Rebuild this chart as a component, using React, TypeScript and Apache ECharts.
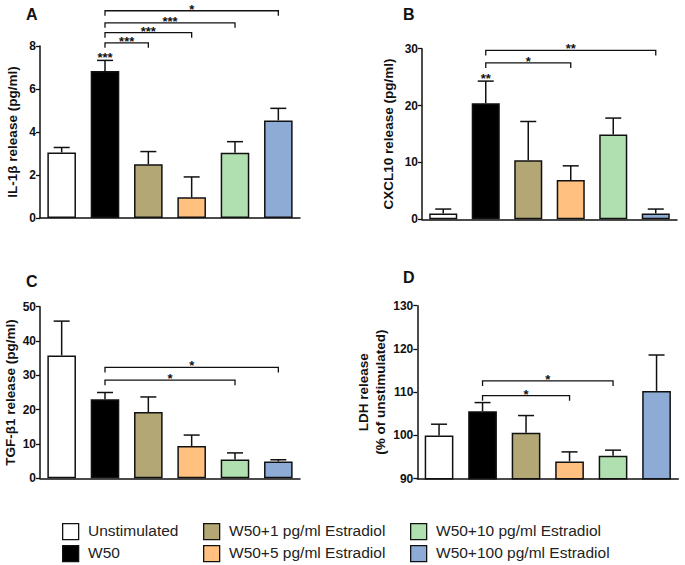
import React, { useEffect, useRef } from "react";
import * as echarts from "echarts";

const categories = [
  "Unstimulated",
  "W50",
  "W50+1 pg/ml Estradiol",
  "W50+5 pg/ml Estradiol",
  "W50+10 pg/ml Estradiol",
  "W50+100 pg/ml Estradiol",
];
const barColors = ["#ffffff", "#000000", "#b3a875", "#ffc080", "#b1e0b0", "#8dabd4"];

// Panel A: IL-1β
const il1bMean = [3.05, 6.84, 2.5, 0.96, 3.04, 4.54];
const il1bSem = [0.23, 0.49, 0.59, 0.95, 0.51, 0.56];
const il1bSig = [
  { from: 1, to: 2, y: 8.15, label: "***" },
  { from: 1, to: 3, y: 8.62, label: "***" },
  { from: 1, to: 4, y: 9.08, label: "***" },
  { from: 1, to: 5, y: 9.64, label: "*" },
];
const il1bBarStars = [{ idx: 1, label: "***" }];

// Panel B: CXCL10
const cxclMean = [1.0, 20.4, 10.4, 6.9, 14.9, 1.0];
const cxclSem = [0.8, 3.9, 6.8, 2.5, 2.9, 0.8];
const cxclSig = [
  { from: 1, to: 3, y: 27.5, label: "*" },
  { from: 1, to: 5, y: 29.7, label: "**" },
];
const cxclBarStars = [{ idx: 1, label: "**" }];

// Panel C: TGF-β1
const tgfMean = [35.8, 23.0, 19.3, 9.4, 5.5, 4.9];
const tgfSem = [10.0, 2.0, 4.4, 3.2, 1.9, 0.5];
const tgfSig = [
  { from: 1, to: 4, y: 28.6, label: "*" },
  { from: 1, to: 5, y: 32.3, label: "*" },
];

// Panel D: LDH
const ldhMean = [100.0, 105.6, 100.6, 94.0, 95.3, 110.3];
const ldhSem = [2.6, 2.0, 4.0, 2.2, 1.3, 8.3];
const ldhSig = [
  { from: 1, to: 3, y: 109.2, label: "*" },
  { from: 1, to: 4, y: 112.6, label: "*" },
];

const FONT = "Liberation Sans, Arial, sans-serif";

type Sig = { from: number; to: number; y: number; label: string };
type Star = { idx: number; label: string };

const panels = [
  {
    letter: "A", mean: il1bMean, sem: il1bSem, sig: il1bSig as Sig[], stars: il1bBarStars as Star[],
    name: "IL-1β release (pg/ml)", min: 0, max: 8, interval: 2,
    grid: { left: 40, top: 46, width: 260, height: 172 }, nameGap: 19,
    letterPos: { left: 26, top: 6 },
  },
  {
    letter: "B", mean: cxclMean, sem: cxclSem, sig: cxclSig as Sig[], stars: cxclBarStars as Star[],
    name: "CXCL10 release (pg/ml)", min: 0, max: 30, interval: 10,
    grid: { left: 422, top: 48.7, width: 255, height: 170.6 }, nameGap: 25,
    letterPos: { left: 403, top: 6 },
  },
  {
    letter: "C", mean: tgfMean, sem: tgfSem, sig: tgfSig as Sig[], stars: [] as Star[],
    name: "TGF-β1 release (pg/ml)", min: 0, max: 50, interval: 10,
    grid: { left: 40, top: 306.7, width: 260, height: 171.6 }, nameGap: 19,
    letterPos: { left: 26, top: 273 },
  },
  {
    letter: "D", mean: ldhMean, sem: ldhSem, sig: ldhSig as Sig[], stars: [] as Star[],
    name: "LDH release\n(% of unstimulated)", min: 90, max: 130, interval: 10,
    grid: { left: 417.3, top: 305.7, width: 261, height: 173 }, nameGap: 28,
    letterPos: { left: 403, top: 269 },
  },
];

export default function App() {
  const ref = useRef<HTMLDivElement>(null);
  useEffect(() => {
    if (!ref.current) return;
    const chart = echarts.init(ref.current, undefined, { renderer: "svg" });

    const grids: any[] = [];
    const xAxes: any[] = [];
    const yAxes: any[] = [];
    const series: any[] = [];
    const titles: any[] = [];

    panels.forEach((p, k) => {
      grids.push({ ...p.grid, containLabel: false });
      titles.push({
        text: p.letter, left: p.letterPos.left, top: p.letterPos.top, padding: 0,
        textStyle: { fontSize: 16, fontWeight: "bold", fontFamily: FONT, color: "#111" },
      });
      xAxes.push({
        type: "category", gridIndex: k, data: categories,
        axisLine: { lineStyle: { color: "#111", width: 1.5 } },
        axisTick: { alignWithLabel: true, length: 4, lineStyle: { color: "#111", width: 1.3 } },
        axisLabel: { show: false },
      });
      yAxes.push({
        type: "value", gridIndex: k, min: p.min, max: p.max, interval: p.interval,
        name: p.name, nameLocation: "middle", nameGap: p.nameGap, nameRotate: 90,
        nameTextStyle: { fontSize: 13.5, fontWeight: "bold", fontFamily: FONT, color: "#111", lineHeight: 17 },
        axisLine: { show: true, lineStyle: { color: "#111", width: 1.5 } },
        axisTick: { show: true, length: 4, lineStyle: { color: "#111", width: 1.3 } },
        axisLabel: { fontSize: 12, fontWeight: "bold", fontFamily: FONT, color: "#111", margin: 4 },
        splitLine: { show: false },
      });
      series.push({
        type: "bar", xAxisIndex: k, yAxisIndex: k, barWidth: "66%",
        data: p.mean.map((v, i) => ({ value: v, itemStyle: { color: barColors[i] } })),
        itemStyle: { borderColor: "#111", borderWidth: 1.5 },
        z: 2,
      });
      series.push({
        type: "custom", xAxisIndex: k, yAxisIndex: k, z: 3,
        data: p.mean.map((v, i) => [i, v, v + p.sem[i]]),
        renderItem: (params: any, api: any) => {
          const i = api.value(0);
          const base = api.coord([i, api.value(1)]);
          const top = api.coord([i, api.value(2)]);
          const half = 8;
          return {
            type: "group",
            children: [
              { type: "line", shape: { x1: top[0], y1: base[1], x2: top[0], y2: top[1] }, style: { stroke: "#111", lineWidth: 1.5 } },
              { type: "line", shape: { x1: top[0] - half, y1: top[1], x2: top[0] + half, y2: top[1] }, style: { stroke: "#111", lineWidth: 1.5 } },
            ],
          };
        },
      });
      const sig = p.sig;
      series.push({
        type: "custom", xAxisIndex: k, yAxisIndex: k, z: 4, clip: false,
        data: sig.map((s) => [s.from, s.to, s.y]),
        renderItem: (params: any, api: any) => {
          const a = api.coord([api.value(0), api.value(2)]);
          const b = api.coord([api.value(1), api.value(2)]);
          return {
            type: "group",
            children: [
              {
                type: "polyline",
                shape: { points: [[a[0], a[1] + 5], [a[0], a[1]], [b[0], b[1]], [b[0], b[1] + 5]] },
                style: { stroke: "#111", lineWidth: 1.3, fill: "none" },
              },
              {
                type: "text",
                x: (a[0] + b[0]) / 2, y: a[1] + 5,
                style: {
                  text: sig[params.dataIndex].label, textAlign: "center", textVerticalAlign: "bottom",
                  fontSize: 13, fontWeight: "bold", fontFamily: FONT, fill: "#111",
                },
              },
            ],
          };
        },
      });
      if (p.stars.length) {
        const stars = p.stars;
        series.push({
          type: "custom", xAxisIndex: k, yAxisIndex: k, z: 4, clip: false,
          data: stars.map((s) => [s.idx, p.mean[s.idx] + p.sem[s.idx]]),
          renderItem: (params: any, api: any) => {
            const c = api.coord([api.value(0), api.value(1)]);
            return {
              type: "text",
              x: c[0], y: c[1] + 4,
              style: {
                text: stars[params.dataIndex].label, textAlign: "center", textVerticalAlign: "bottom",
                fontSize: 13, fontWeight: "bold", fontFamily: FONT, fill: "#111",
              },
            };
          },
        });
      }
    });

    const legendCols = [62, 203, 410];
    const legendRows = [531, 553];
    const legendGraphic: any[] = [];
    categories.forEach((c, i) => {
      const col = Math.floor(i / 2);
      const row = i % 2;
      const x = legendCols[col];
      const y = legendRows[row];
      legendGraphic.push({
        type: "rect", left: x, top: y - 8,
        shape: { width: 16, height: 16 },
        style: { fill: barColors[i], stroke: "#111", lineWidth: 1.3 },
      });
      legendGraphic.push({
        type: "text", left: x + 26, top: y - 9,
        style: { text: c, fontSize: 15.5, fontFamily: FONT, fill: "#222" },
      });
    });

    chart.setOption({
      animation: false,
      backgroundColor: "#ffffff",
      title: titles,
      grid: grids,
      xAxis: xAxes,
      yAxis: yAxes,
      series,
      graphic: legendGraphic,
    });
    return () => chart.dispose();
  }, []);
  return (
    <div
      ref={ref}
      style={{ position: "absolute", left: 0, top: 0, width: 685, height: 565, background: "#fff" }}
    />
  );
}
